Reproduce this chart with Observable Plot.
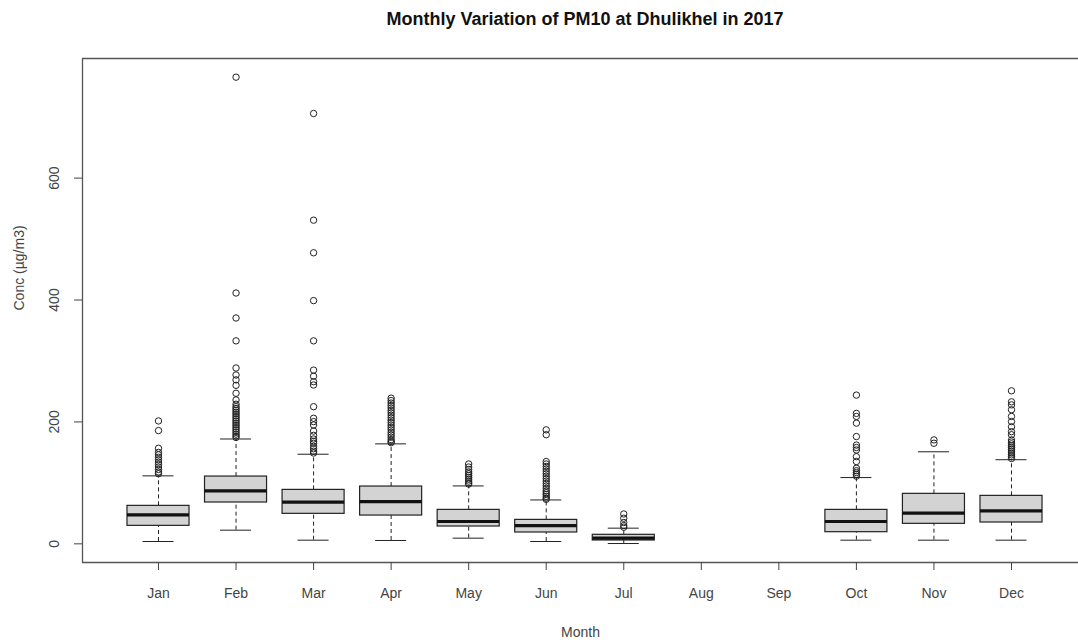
<!DOCTYPE html>
<html><head><meta charset="utf-8">
<script src="https://cdn.jsdelivr.net/npm/d3@7"></script>
<script src="https://cdn.jsdelivr.net/npm/@observablehq/plot@0.6"></script>
<style>
html,body{margin:0;padding:0;background:#fff;overflow:hidden;}
#title{position:relative;width:1078px;height:40px;font:bold 18px "Liberation Sans",Arial,sans-serif;color:#111;}
#title span{position:absolute;left:585px;top:19px;transform:translate(-50%,-50%);white-space:nowrap;}
</style></head><body>
<div id="title"><span>Monthly Variation of PM10 at Dhulikhel in 2017</span></div>
<div id="chart"></div>
<script>
const months = ["Jan","Feb","Mar","Apr","May","Jun","Jul","Aug","Sep","Oct","Nov","Dec"];
const whiskerLow  = [3.8, 22.4, 6.0, 5.5, 9.3, 3.8, 0.5, null, null, 6.0, 6.0, 6.0];
const q1          = [29.5, 67.8, 49.2, 46.4, 28.4, 18.6, 5.5, null, null, 19.1, 32.8, 35.0];
const median      = [47.5, 86.9, 68.3, 69.4, 36.6, 30.0, 9.3, null, null, 36.6, 50.3, 54.0];
const q3          = [62.3, 110.4, 88.5, 94.0, 55.7, 39.3, 14.8, null, null, 55.7, 82.0, 78.7];
const whiskerHigh = [111.5, 172.0, 147.0, 164.0, 95.0, 72.0, 25.7, null, null, 108.7, 151.0, 138.0];

const outJan = [201.6, 185.8, 156.8, 150, 146, 142, 138, 134, 130, 126, 122, 118, 115];
const outFeb = [765.6, 411.5, 370.5, 333, 288.5, 277, 269, 260, 247, 236, 229, 225, 222, 219, 216, 213, 210, 207, 204, 201, 198, 195, 192, 189, 186, 183, 180, 177, 174.5];
const outMar = [706, 531, 477.5, 399, 333, 285, 275, 266, 260.6, 225, 206, 200.5, 195, 185, 178, 172, 168, 165, 160, 156, 152, 149];
const outApr = [239, 235, 231, 227, 223, 219, 215, 211, 207, 203, 199, 195, 191, 187, 183, 179, 175, 171, 168, 166];
const outMay = [131, 126, 122, 118, 115, 112, 109, 106, 103, 100, 98];
const outJun = [187, 179, 135, 131, 127, 123, 119, 115, 111, 107, 103, 99, 95, 91, 87, 84, 81, 78, 75, 73];
const outJul = [49, 42, 35, 30, 27.3];
const outAug = [];
const outSep = [];
const outOct = [244, 214, 209, 198, 176, 162, 158, 154, 143, 135, 124, 120, 117, 114, 111];
const outNov = [170.5, 165];
const outDec = [251, 233, 228, 220, 209, 200.6, 192, 184, 179, 170.5, 167, 164, 161, 158, 155, 152, 149, 146, 143, 140];

const yTicks = [0, 200, 400, 600];
const xTitle = "Month";
const yTitle = "Conc (\u00b5g/m3)";

const outliersByMonth = [outJan,outFeb,outMar,outApr,outMay,outJun,outJul,outAug,outSep,outOct,outNov,outDec];
const stats = months.map((m, k) => ({i: k + 1, lo: whiskerLow[k], q1: q1[k], med: median[k], q3: q3[k], hi: whiskerHigh[k]}))
  .filter(d => d.med != null);
const outliers = outliersByMonth.flatMap((arr, k) => arr.map(v => ({i: k + 1, v})));

const allVals = [...whiskerLow, ...whiskerHigh, ...outliers.map(d => d.v)].filter(v => v != null);
const yMin = 0, yMax = d3.max(allVals);
const pad = (yMax - yMin) * 0.04;
const yDom = [yMin - pad, yMax + pad];
const xLeft = 0.02;
const pxPerUnit = 77.545;
const xRight = 1 + (1078 - 158) / pxPerUnit;

const half = 0.4, cap = 0.2;
const ink = "#222";
const axisCol = "#555";
const font = "'Liberation Sans', Arial, sans-serif";

const chart = Plot.plot({
  width: 1078,
  height: 603,
  marginTop: 18,
  marginBottom: 81,
  marginLeft: 82,
  marginRight: 0,
  style: {fontFamily: font, background: "#fff"},
  x: {type: "linear", domain: [xLeft, xRight]},
  y: {domain: yDom},
  marks: [
    Plot.ruleX([xLeft], {stroke: axisCol, strokeWidth: 1.3}),
    Plot.ruleY([yDom[0], yDom[1]], {stroke: axisCol, strokeWidth: 1.3}),
    Plot.axisX({ticks: d3.range(1, 13), tickFormat: d => months[d - 1], tickSize: 8, tickPadding: 18, fontSize: 14, color: "#444", label: null}),
    Plot.axisY({ticks: yTicks, tickSize: 8, tickFormat: () => "", color: "#444", label: null}),
    Plot.text(yTicks, {x: xLeft, y: d => d, text: d => String(d), rotate: -90, dx: -28, fontSize: 14, fill: "#444"}),
    Plot.text([xTitle], {frameAnchor: "bottom", text: d => d, dy: 74, fontSize: 14, fill: "#444"}),
    Plot.text([yTitle], {frameAnchor: "left", text: d => d, rotate: -90, dx: -63, fontSize: 14, fill: "#444"}),
    // whiskers
    Plot.ruleX(stats, {x: "i", y1: "lo", y2: "q1", stroke: ink, strokeDasharray: "4,3"}),
    Plot.ruleX(stats, {x: "i", y1: "q3", y2: "hi", stroke: ink, strokeDasharray: "4,3"}),
    Plot.ruleY(stats, {y: "lo", x1: d => d.i - cap, x2: d => d.i + cap, stroke: ink}),
    Plot.ruleY(stats, {y: "hi", x1: d => d.i - cap, x2: d => d.i + cap, stroke: ink}),
    // boxes
    Plot.rect(stats, {x1: d => d.i - half, x2: d => d.i + half, y1: "q1", y2: "q3", fill: "#d3d3d3", stroke: ink, strokeWidth: 1.2}),
    Plot.ruleY(stats, {y: "med", x1: d => d.i - half, x2: d => d.i + half, stroke: "#111", strokeWidth: 3.2}),
    // outliers
    Plot.dot(outliers, {x: "i", y: "v", r: 3.2, stroke: ink, fill: "none", strokeWidth: 1})
  ]
});
document.getElementById("chart").appendChild(chart);
</script>
</body></html>
